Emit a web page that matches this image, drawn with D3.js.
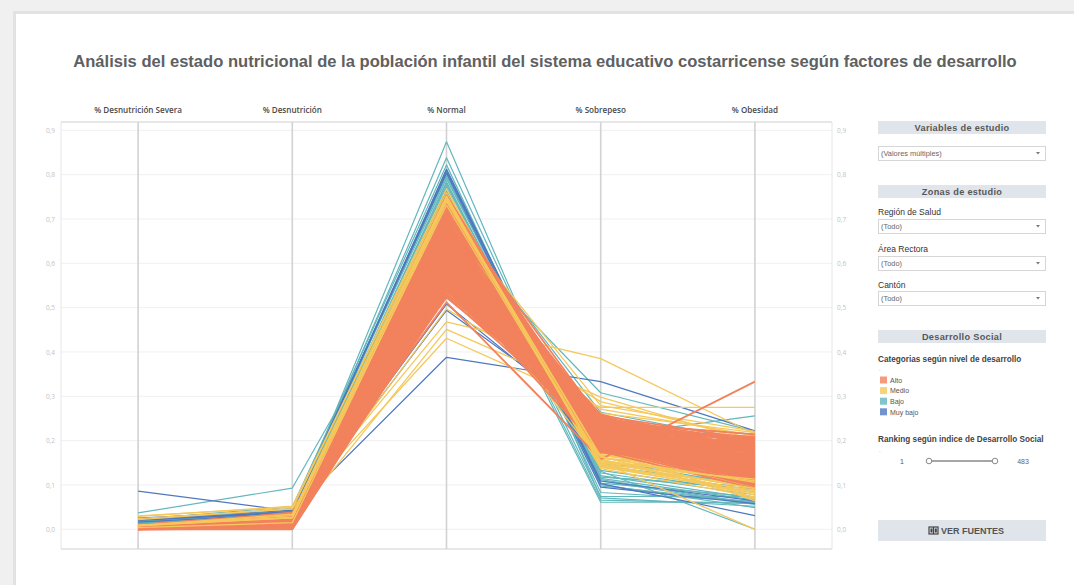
<!DOCTYPE html>
<html lang="es">
<head>
<meta charset="utf-8">
<script src="https://cdn.jsdelivr.net/npm/d3@7"></script>
<style>
  html, body { margin: 0; padding: 0; background: #f0f0f0; }
  svg { display: block; }
</style>
</head>
<body>
<svg id="chart" width="1074" height="585"></svg>
<script>
// Ejes del gráfico de coordenadas paralelas
const axesNames = ["% Desnutrición Severa", "% Desnutrición", "% Normal", "% Sobrepeso", "% Obesidad"];
const categories = ["Alto", "Medio", "Bajo", "Muy bajo"];
const categoryColors = ["#f2825d", "#f5c85c", "#62b7bd", "#4f78bf"];
const yTicks = [0, 0.1, 0.2, 0.3, 0.4, 0.5, 0.6, 0.7, 0.8, 0.9];

// Proporciones por cantón: [desn. severa, desnutrición, normal, sobrepeso, obesidad]
const alto = [
  [.004,.018,.612,.221,.145],[.002,.012,.585,.238,.163],[.006,.024,.644,.205,.121],[.001,.002,.558,.247,.185],
  [.008,.030,.671,.189,.102],[.003,.015,.597,.229,.156],[.005,.021,.628,.214,.132],[.000,.001,.541,.252,.198],
  [.007,.027,.655,.198,.113],[.002,.014,.603,.226,.151],[.004,.019,.619,.218,.140],[.009,.033,.683,.181,.097],
  [.001,.011,.572,.243,.174],[.006,.022,.637,.209,.126],[.003,.016,.591,.233,.159],[.005,.025,.649,.201,.118],
  [.000,.003,.549,.249,.192],[.008,.029,.664,.193,.109],[.002,.013,.579,.240,.168],[.004,.020,.624,.216,.137],
  [.010,.035,.702,.176,.092],[.003,.017,.608,.223,.148],[.006,.023,.641,.207,.124],[.001,.004,.565,.246,.179],
  [.007,.026,.659,.196,.111],[.002,.012,.594,.231,.161],[.005,.021,.632,.211,.129],[.004,.018,.616,.219,.142],
  [.000,.000,.537,.256,.203],[.009,.031,.676,.186,.099],[.003,.015,.662,.244,.138],[.006,.028,.571,.182,.176],
  [.002,.005,.688,.231,.157],[.005,.024,.553,.193,.205],[.001,.011,.634,.254,.122],[.007,.031,.598,.174,.134],
  [.004,.019,.712,.208,.163],[.003,.014,.526,.218,.188],[.008,.026,.647,.238,.171],[.002,.017,.583,.202,.116],
  [.006,.021,.726,.196,.147],[.000,.007,.562,.229,.209],[.004,.033,.619,.247,.106],[.005,.010,.691,.212,.183],
  [.001,.022,.547,.236,.127],[.007,.016,.668,.179,.154],[.003,.027,.604,.258,.139],[.002,.012,.739,.187,.119],
  [.006,.020,.575,.214,.196],[.004,.029,.653,.226,.108],[.009,.015,.589,.199,.168],[.001,.024,.697,.241,.131],
  [.005,.018,.532,.227,.201],[.003,.031,.627,.185,.177],[.008,.011,.679,.252,.145],[.002,.025,.566,.207,.114],
  [.006,.019,.644,.233,.189],[.004,.013,.718,.191,.126],[.000,.022,.551,.244,.162],[.007,.035,.612,.178,.121],
  [.003,.003,.673,.217,.193],[.005,.028,.594,.249,.104],[.001,.016,.657,.203,.172],[.008,.021,.543,.221,.146],
  [.002,.030,.706,.237,.158],[.006,.014,.581,.188,.133],[.004,.026,.639,.259,.181],[.003,.010,.748,.183,.112],
  [.007,.023,.562,.211,.199],[.001,.033,.621,.228,.135],[.005,.017,.684,.195,.166],[.002,.006,.529,.246,.174],
  [.009,.028,.651,.215,.103],[.004,.020,.597,.173,.187],[.000,.015,.667,.239,.128],[.006,.032,.573,.201,.155],
  [.003,.009,.731,.224,.142],[.005,.025,.556,.234,.117],[.008,.018,.628,.181,.194],[.001,.013,.694,.248,.151],
  [.004,.029,.608,.206,.165],[.002,.021,.545,.219,.137],[.007,.011,.661,.187,.178],[.003,.034,.588,.253,.125],
  [.006,.016,.716,.213,.109],[.000,.024,.569,.196,.191],[.005,.019,.636,.242,.148],[.002,.027,.677,.175,.161],
  [.009,.012,.551,.229,.118],[.004,.022,.603,.217,.206],[.001,.030,.645,.192,.139],[.006,.014,.699,.236,.172],
  [.003,.018,.577,.204,.101],[.007,.026,.622,.251,.184],[.002,.010,.742,.198,.132],[.005,.032,.538,.223,.157],
  [.004,.015,.656,.184,.123],[.000,.002,.592,.245,.197],[.008,.020,.681,.209,.144],[.003,.028,.559,.177,.169],
  [.006,.011,.633,.232,.113],[.001,.017,.709,.222,.186],[.004,.025,.583,.257,.130],[.002,.031,.668,.199,.153],
  [.007,.013,.548,.213,.179],[.005,.019,.614,.240,.107],[.003,.024,.687,.186,.164],[.009,.016,.571,.228,.143],
  [.001,.029,.641,.205,.188],[.006,.010,.724,.247,.120],[.004,.022,.599,.180,.176],[.002,.035,.657,.235,.134],
  [.010,.036,.512,.158,.333],[.005,.038,.523,.242,.214],[.004,.021,.754,.192,.138],[.006,.027,.735,.204,.151]
];

const medio = [
  [.006,.018,.702,.168,.121],[.004,.022,.645,.182,.104],[.003,.012,.624,.193,.137],
  [.005,.016,.693,.176,.116],[.002,.010,.617,.204,.149],[.024,.046,.768,.137,.073],
  [.005,.020,.716,.161,.128],[.007,.024,.638,.187,.097],[.008,.028,.658,.198,.143],
  [.006,.021,.724,.147,.086],[.003,.013,.609,.172,.132],[.007,.023,.671,.191,.119],
  [.004,.017,.708,.139,.101],[.029,.052,.759,.158,.077],[.005,.014,.652,.211,.153],[.008,.029,.733,.175,.094],
  [.003,.015,.597,.152,.125],[.006,.025,.681,.183,.112],[.009,.033,.721,.144,.088],[.004,.019,.632,.196,.139],
  [.004,.016,.709,.178,.071],[.007,.022,.686,.149,.131],[.008,.035,.756,.186,.099],
  [.005,.020,.644,.167,.145],[.002,.011,.715,.141,.083],[.008,.030,.736,.172,.118],[.004,.018,.668,.201,.127],
  [.009,.036,.727,.157,.091],[.006,.021,.694,.188,.064],[.003,.013,.621,.215,.166],
  [.007,.032,.703,.162,.102],[.006,.024,.677,.179,.135]
];

// Cantones de nivel medio con valores extremos
const medioExtremos = [
  [.022,.046,.468,.385,.215],[.030,.050,.431,.275,.275],[.006,.024,.532,.262,.218],[.005,.020,.451,.298,.196],
  [.007,.027,.742,.152,.000],[.004,.018,.712,.279,.221],[.003,.015,.548,.271,.211],[.008,.029,.497,.288,.203],
  [.005,.022,.663,.171,.158],[.006,.025,.705,.159,.147],[.004,.019,.638,.166,.124]
];

// Cantones de nivel medio con mayor proporción normal
const medioAltoNormal = [
  [.008,.031,.752,.143,.081],[.009,.034,.745,.165,.068],[.008,.026,.749,.146,.113],
  [.009,.027,.743,.163,.106],[.004,.015,.739,.155,.109],[.009,.026,.731,.151,.092]
];

const bajo = [
  [.012,.031,.874,.071,.052],[.018,.038,.838,.098,.061],[.009,.027,.812,.104,.073],[.015,.042,.803,.112,.058],
  [.021,.045,.791,.121,.069],[.011,.033,.776,.133,.084],[.007,.024,.752,.118,.091],[.016,.040,.744,.142,.102],
  [.013,.036,.731,.127,.078],[.010,.029,.784,.109,.056],[.008,.026,.759,.146,.087],[.022,.051,.797,.101,.049],
  [.006,.022,.771,.115,.066],[.020,.047,.822,.083,.063],[.018,.044,.748,.061,.061],[.013,.037,.781,.074,.074],
  [.016,.041,.764,.066,.058],[.010,.032,.723,.131,.000],[.037,.093,.705,.118,.096],[.014,.036,.692,.209,.256],
  [.012,.034,.668,.308,.221],[.011,.029,.714,.264,.197],[.009,.028,.702,.147,.123],[.017,.043,.709,.156,.097]
];

const muyBajo = [
  [.086,.041,.388,.333,.222],[.024,.036,.812,.103,.031],[.021,.040,.803,.095,.058],[.025,.043,.807,.109,.064],
  [.016,.035,.494,.242,.214],[.020,.038,.508,.226,.118]
];

// Orden de dibujo de los grupos
const drawOrder = [
  { rows: bajo, cat: 2, w: 1.2 },
  { rows: muyBajo, cat: 3, w: 1.2 },
  { rows: medio, cat: 1, w: 1.3 },
  { rows: medioExtremos, cat: 1, w: 1.3 },
  { rows: alto, cat: 0, w: 1.8 },
  { rows: medioAltoNormal, cat: 1, w: 1.3 }
];

const svg = d3.select("#chart");
const W = 1074, H = 585;

// Fondo y tarjeta
svg.append("rect").attr("width", W).attr("height", H).attr("fill", "#f0f0f0");
svg.append("rect").attr("x", 13).attr("y", 11).attr("width", W - 13).attr("height", H - 11).attr("fill", "#e2e2e2");
svg.append("rect").attr("x", 16).attr("y", 14).attr("width", W - 16).attr("height", H - 14).attr("fill", "#ffffff");

// Título
const title = svg.append("text")
  .attr("x", 545).attr("y", 67)
  .attr("text-anchor", "middle")
  .attr("font-family", "'Liberation Sans', Arial, sans-serif")
  .attr("font-weight", "bold")
  .attr("font-size", 16)
  .attr("fill", "#606060")
  .text("Análisis del estado nutricional de la población infantil del sistema educativo costarricense según factores de desarrollo");
const tl = title.node().getComputedTextLength();
title.attr("font-size", 16 * 944 / tl);

// Área del gráfico
const plot = { left: 61, right: 832, top: 122, bottom: 549 };
const x = d3.scalePoint().domain(axesNames).range([plot.left, plot.right]).padding(0.5);
const y = d3.scaleLinear().domain([0, 0.9]).range([529.3, 130.3]);
const esLocale = d3.formatLocale({ decimal: ",", thousands: ".", grouping: [3], currency: ["", "€"] });
const fmt = esLocale.format(".1f");

// Cuadrícula horizontal
svg.append("g").selectAll("line").data(yTicks).join("line")
  .attr("x1", plot.left).attr("x2", plot.right)
  .attr("y1", d => y(d)).attr("y2", d => y(d))
  .attr("stroke", "#f0f0f0").attr("stroke-width", 1);

// Bordes del área
svg.append("line").attr("x1", plot.left).attr("x2", plot.right).attr("y1", plot.top).attr("y2", plot.top)
  .attr("stroke", "#cfcfcf").attr("stroke-width", 1.2);
svg.append("line").attr("x1", plot.left).attr("x2", plot.right).attr("y1", plot.bottom).attr("y2", plot.bottom)
  .attr("stroke", "#cfcfcf").attr("stroke-width", 1.2);
svg.append("line").attr("x1", plot.left).attr("x2", plot.left).attr("y1", plot.top).attr("y2", plot.bottom)
  .attr("stroke", "#e6e6e6").attr("stroke-width", 1);
svg.append("line").attr("x1", plot.right).attr("x2", plot.right).attr("y1", plot.top).attr("y2", plot.bottom)
  .attr("stroke", "#e6e6e6").attr("stroke-width", 1);

// Ejes verticales
svg.append("g").selectAll("line").data(axesNames).join("line")
  .attr("x1", d => x(d)).attr("x2", d => x(d))
  .attr("y1", plot.top).attr("y2", plot.bottom)
  .attr("stroke", "#d2d2d2").attr("stroke-width", 1.6);

// Etiquetas de los ejes
svg.append("g").selectAll("text").data(axesNames).join("text")
  .attr("x", d => x(d)).attr("y", 113)
  .attr("text-anchor", "middle")
  .attr("font-family", "'Open Sans', sans-serif")
  .attr("font-weight", 600)
  .attr("font-size", 8.1)
  .attr("fill", "#4a4a4a")
  .text(d => d);

// Escalas izquierda y derecha
const leftAxis = svg.append("g").attr("transform", `translate(${plot.left},0)`)
  .call(d3.axisLeft(y).tickValues(yTicks).tickSize(0).tickPadding(6).tickFormat(fmt));
const rightAxis = svg.append("g").attr("transform", `translate(${plot.right},0)`)
  .call(d3.axisRight(y).tickValues(yTicks).tickSize(0).tickPadding(5).tickFormat(fmt));
[leftAxis, rightAxis].forEach(g => {
  g.select(".domain").remove();
  g.selectAll("text")
    .attr("font-family", "'Open Sans', sans-serif")
    .attr("font-size", 6.5)
    .attr("fill", "#c3c3c3");
});

// Líneas de cada cantón
const line = d3.line().x((d, i) => x(axesNames[i])).y(d => y(d));
const linesG = svg.append("g").attr("fill", "none").attr("stroke-linejoin", "round");
drawOrder.forEach(grp => {
  linesG.append("g").selectAll("path").data(grp.rows).join("path")
    .attr("d", line)
    .attr("stroke", categoryColors[grp.cat])
    .attr("stroke-width", grp.w);
});

// Panel de filtros
const panelX = 878, panelW = 168;
const panel = svg.append("g").attr("font-family", "'Liberation Sans', Arial, sans-serif");

function header(yTop, label) {
  panel.append("rect").attr("x", panelX).attr("y", yTop).attr("width", panelW).attr("height", 13)
    .attr("fill", "#dfe5eb");
  panel.append("text").attr("x", panelX + panelW / 2).attr("y", yTop + 10)
    .attr("text-anchor", "middle").attr("font-size", 9.2).attr("font-weight", "bold")
    .attr("fill", "#585858").attr("letter-spacing", 0.3).text(label);
}
function dropdown(yTop, label) {
  panel.append("rect").attr("x", panelX + 0.5).attr("y", yTop + 0.5).attr("width", panelW - 1).attr("height", 14)
    .attr("fill", "#fff").attr("stroke", "#d6d6d6");
  panel.append("text").attr("x", panelX + 3).attr("y", yTop + 10)
    .attr("font-size", 7.4).attr("fill", "#666").text(label);
  panel.append("path")
    .attr("d", `M${panelX + panelW - 10},${yTop + 6} l4,0 l-2,2.5 z`)
    .attr("fill", "#777");
}
function fieldLabel(yBase, label) {
  panel.append("text").attr("x", panelX).attr("y", yBase)
    .attr("font-size", 8.5).attr("fill", "#333").text(label);
}

header(121, "Variables de estudio");
dropdown(146, "(Valores múltiples)");
header(185, "Zonas de estudio");
fieldLabel(215, "Región de Salud");
dropdown(219, "(Todo)");
fieldLabel(252, "Área Rectora");
dropdown(256, "(Todo)");
fieldLabel(288, "Cantón");
dropdown(291, "(Todo)");
header(330, "Desarrollo Social");

panel.append("text").attr("x", panelX).attr("y", 362)
  .attr("font-size", 8.2).attr("font-weight", "bold").attr("fill", "#444")
  .text("Categorias según nivel de desarrollo");
panel.append("text").attr("x", panelX + 1).attr("y", 371).attr("font-size", 6).attr("fill", "#999").text(".");

// Leyenda
const legend = panel.append("g").selectAll("g").data(categories).join("g")
  .attr("transform", (d, i) => `translate(${panelX + 2},${376.5 + i * 10.6})`);
legend.append("rect").attr("width", 7).attr("height", 7)
  .attr("fill", (d, i) => categoryColors[i]).attr("opacity", 0.8);
legend.append("text").attr("x", 10).attr("y", 6.3)
  .attr("font-size", 7).attr("fill", "#555").text(d => d);

panel.append("text").attr("x", panelX).attr("y", 442)
  .attr("font-size", 8.2).attr("font-weight", "bold").attr("fill", "#444")
  .text("Ranking según indice de Desarrollo Social");
panel.append("text").attr("x", panelX + 1).attr("y", 452).attr("font-size", 6).attr("fill", "#999").text(".");

// Control deslizante
const rankRange = [1, 483];
const slider = d3.scaleLinear().domain(rankRange).range([929, 995]);
panel.append("text").attr("x", 902).attr("y", 464).attr("text-anchor", "middle")
  .attr("font-size", 7).attr("fill", "#555").text(rankRange[0]);
panel.append("text").attr("x", 1023).attr("y", 464).attr("text-anchor", "middle")
  .attr("font-size", 7).attr("fill", "#666").text(rankRange[1]);
panel.append("line").attr("x1", slider(rankRange[0])).attr("x2", slider(rankRange[1]))
  .attr("y1", 461).attr("y2", 461).attr("stroke", "#888").attr("stroke-width", 1.5);
panel.selectAll("circle.handle").data(rankRange).join("circle")
  .attr("class", "handle")
  .attr("cx", d => slider(d)).attr("cy", 461).attr("r", 2.8)
  .attr("fill", "#fff").attr("stroke", "#888").attr("stroke-width", 1);

// Botón de fuentes
panel.append("rect").attr("x", panelX).attr("y", 520).attr("width", panelW).attr("height", 21)
  .attr("fill", "#dfe5eb");
const icon = panel.append("g").attr("transform", "translate(929,527)");
icon.append("rect").attr("width", 9).attr("height", 7).attr("fill", "none").attr("stroke", "#444").attr("stroke-width", 1.2);
icon.append("line").attr("x1", 4.5).attr("x2", 4.5).attr("y1", 0).attr("y2", 7).attr("stroke", "#444").attr("stroke-width", 1.2);
icon.append("rect").attr("x", 1.5).attr("y", 1.5).attr("width", 2).attr("height", 4).attr("fill", "#444");
icon.append("rect").attr("x", 5.8).attr("y", 1.5).attr("width", 2).attr("height", 4).attr("fill", "#444");
panel.append("text").attr("x", 941).attr("y", 534)
  .attr("font-size", 9).attr("font-weight", "bold").attr("fill", "#555").text("VER FUENTES");
</script>
</body>
</html>
